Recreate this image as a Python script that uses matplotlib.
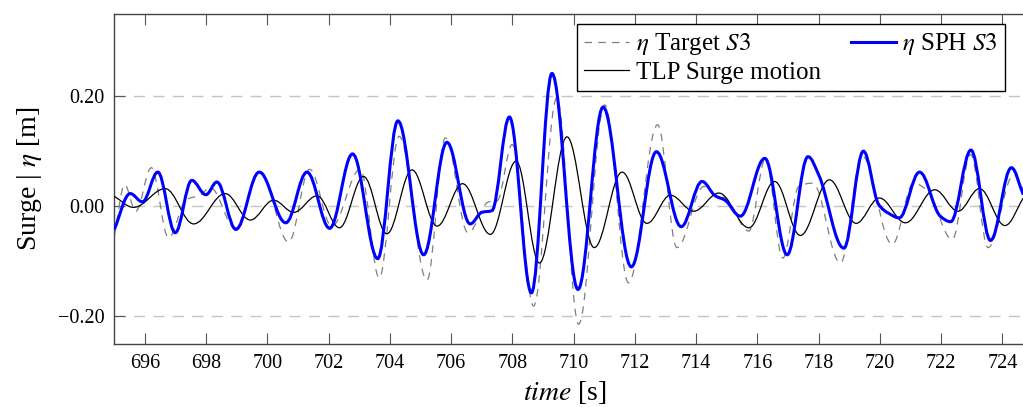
import numpy as np
import matplotlib
matplotlib.use("Agg")
from matplotlib import pyplot as plt
from matplotlib.path import Path
from matplotlib.patches import PathPatch
from matplotlib.lines import Line2D

plt.rcParams['font.family'] = ['Liberation Serif', 'DejaVu Serif']
plt.rcParams['mathtext.fontset'] = 'stix'

# extrema / shoulder points (time [s], value [m])
t_tgt = [695.0, 695.34, 695.7, 696.21, 696.77, 697.35, 697.8, 698.13, 698.95, 699.77,
         700.69, 701.38, 702.1, 703.03, 703.65, 704.3, 705.21, 705.81, 706.55, 707.22,
         707.5, 707.99, 708.69, 709.45, 710.16, 711.01, 711.79, 712.74, 713.37, 714.25,
         714.65, 714.95, 715.72, 716.26, 716.83, 717.35, 717.8, 718.71, 719.42, 720.4,
         721.1, 721.55, 722.36, 722.96, 723.53, 724.37, 724.68]
v_tgt = [-0.054, 0.039, -0.009, 0.070, -0.057, 0.012, 0.020, 0.034, -0.039, 0.063,
         -0.065, 0.067, -0.036, 0.067, -0.130, 0.127, -0.134, 0.124, -0.048, 0.008,
         0.010, 0.112, -0.181, 0.197, -0.214, 0.184, -0.139, 0.148, -0.075, 0.036,
         0.020, 0.015, -0.045, 0.086, -0.094, 0.036, 0.042, -0.103, 0.091, -0.069,
         0.042, 0.028, -0.060, 0.094, -0.075, 0.057, 0.030]

t_sph = [695.0, 695.52, 695.92, 696.42, 696.99, 697.53, 697.99, 698.35, 698.97, 699.73,
         700.6, 701.29, 702.03, 702.78, 703.6, 704.26, 705.1, 705.86, 706.62, 707.0,
         707.33, 707.9, 708.62, 709.29, 710.14, 710.96, 711.88, 712.7, 713.51, 714.19,
         714.62, 714.94, 715.44, 716.24, 716.97, 717.65, 718.0, 718.82, 719.46, 719.96,
         720.29, 720.63, 721.29, 721.97, 722.31, 722.97, 723.61, 724.29, 724.68]
v_sph = [-0.042, 0.023, 0.008, 0.062, -0.048, 0.047, 0.021, 0.044, -0.042, 0.062,
         -0.030, 0.062, -0.040, 0.095, -0.095, 0.155, -0.088, 0.116, -0.032, -0.011,
         -0.008, 0.162, -0.157, 0.241, -0.151, 0.180, -0.110, 0.099, -0.037, 0.045,
         0.019, 0.011, -0.018, 0.087, -0.088, 0.090, 0.057, -0.076, 0.100, 0.003,
         -0.013, -0.021, 0.062, -0.018, -0.028, 0.102, -0.062, 0.070, 0.021]

t_tlp = [695.0, 695.63, 696.66, 697.59, 698.62, 699.44, 700.2, 700.86, 701.62, 702.35,
         703.14, 703.9, 704.72, 705.54, 706.37, 707.28, 708.12, 708.88, 709.78, 710.67,
         711.58, 712.39, 713.16, 713.92, 714.74, 715.72, 716.56, 717.4, 718.35, 719.22,
         719.98, 720.83, 721.79, 722.55, 723.25, 724.08, 724.68]
v_tlp = [0.018, -0.002, 0.032, -0.032, 0.023, -0.025, 0.011, -0.011, 0.019, -0.039,
         0.054, -0.050, 0.066, -0.036, 0.041, -0.051, 0.082, -0.103, 0.126, -0.075,
         0.062, -0.031, 0.020, -0.009, 0.024, -0.039, 0.045, -0.053, 0.048, -0.031,
         0.015, -0.030, 0.030, -0.009, 0.032, -0.035, 0.015]

xticks = list(range(696, 725, 2))
yticks = [-0.2, 0.0, 0.2]
ytick_labels = ['\u22120.20', '0.00', '0.20']


def smooth_path(t, v, c=0.363):
    # cubic bezier through the read points, flat at the extrema
    t = np.asarray(t, float)
    v = np.asarray(v, float)
    d = np.diff(v) / np.diff(t)
    m = np.zeros(len(t))
    m[0], m[-1] = d[0], d[-1]
    for i in range(1, len(t) - 1):
        if d[i - 1] * d[i] > 0:
            m[i] = 2.0 / (1.0 / d[i - 1] + 1.0 / d[i])
    verts = [(t[0], v[0])]
    codes = [Path.MOVETO]
    for i in range(len(t) - 1):
        h = t[i + 1] - t[i]
        verts += [(t[i] + c * h, v[i] + m[i] * c * h),
                  (t[i + 1] - c * h, v[i + 1] - m[i + 1] * c * h),
                  (t[i + 1], v[i + 1])]
        codes += [Path.CURVE4] * 3
    return Path(verts, codes)


fig = plt.figure(figsize=(10.23, 4.07), dpi=100)
ax = fig.add_axes([114 / 1023, 1 - 344 / 407, 909 / 1023, 330 / 407])

dash_tgt = (0, (6, 5))
ax.add_patch(PathPatch(smooth_path(t_tgt, v_tgt), fill=False, edgecolor='#7f7f7f',
                       lw=0.9, linestyle=dash_tgt, zorder=2))
ax.add_patch(PathPatch(smooth_path(t_tlp, v_tlp), fill=False, edgecolor='black',
                       lw=0.9, zorder=3))
ax.add_patch(PathPatch(smooth_path(t_sph, v_sph), fill=False, edgecolor='#0000ff',
                       lw=2.2, zorder=4))

ax.set_xlim(694.99, 724.67)
ax.set_ylim(-0.25, 0.349)
ax.set_xticks(xticks)
ax.set_yticks(yticks)
ax.set_yticklabels(ytick_labels)

ax.yaxis.grid(True, linestyle=(0, (8, 6)), color='#c4c4c4', lw=1.0)
ax.set_axisbelow(True)

for s in ['left', 'bottom', 'top']:
    ax.spines[s].set_color('#444444')
    ax.spines[s].set_linewidth(1.0)
ax.spines['right'].set_visible(False)

ax.tick_params(axis='x', direction='in', top=True, length=8, width=0.8,
               color='#555555', labelsize=14.5, pad=7)
ax.tick_params(axis='y', direction='in', right=False, length=8, width=0.8,
               color='#555555', labelsize=14.5, pad=7)

ax.set_xlabel('$\\mathit{time}$ [s]', fontsize=20)
ax.xaxis.set_label_coords(0.496, -0.105)
ax.set_ylabel('Surge | $\\eta$ [m]', fontsize=20)
ax.yaxis.set_label_coords(-0.077, 0.5)

handles = [Line2D([], [], color='#7f7f7f', lw=0.9, linestyle=dash_tgt),
           Line2D([], [], color='black', lw=0.9),
           Line2D([], [], color='#0000ff', lw=2.2)]
labels = ['$\\eta$ Target $\\mathit{S3}$', 'TLP Surge motion', '$\\eta$ SPH $\\mathit{S3}$']
leg = ax.legend(handles, labels, ncol=2, loc='upper right', bbox_to_anchor=(0.980, 0.970),
                fontsize=18, frameon=True, fancybox=False, framealpha=1, edgecolor='black',
                handlelength=1.8, handletextpad=0.25, columnspacing=1.2,
                labelspacing=0.15, borderpad=0.3, borderaxespad=0)
leg.get_frame().set_linewidth(1.0)

fig.savefig('out.png', dpi=100)
